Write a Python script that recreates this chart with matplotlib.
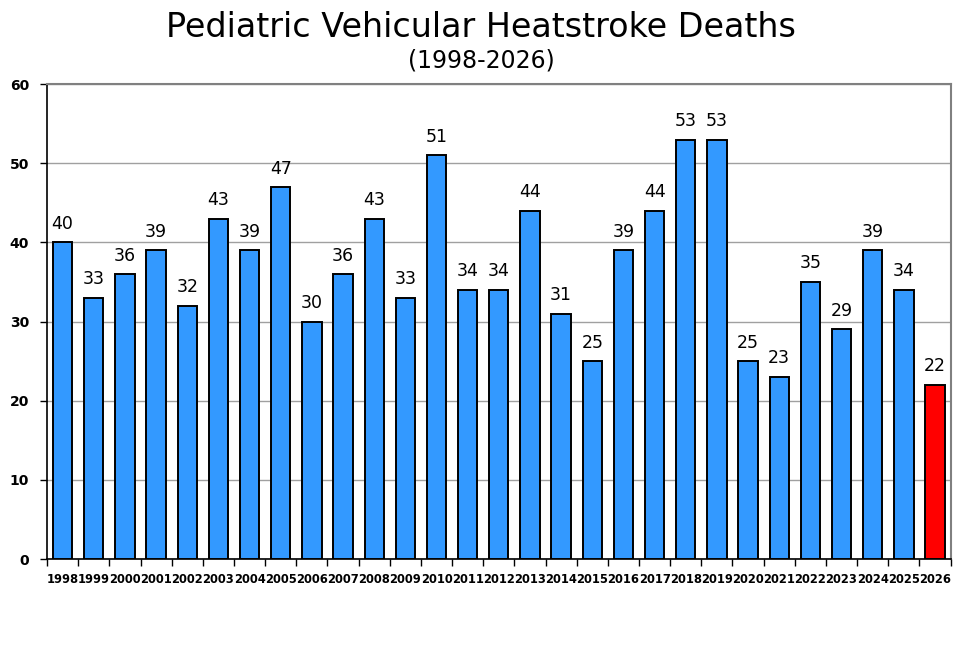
import numpy as np
import matplotlib
matplotlib.use("Agg")
from matplotlib import pyplot as plt

years = [str(y) for y in range(1998, 2027)]
deaths = [40, 33, 36, 39, 32, 43, 39, 47, 30, 36, 43, 33, 51, 34, 34, 44,
          31, 25, 39, 44, 53, 53, 25, 23, 35, 29, 39, 34, 22]


def main():
    '''Draw the bar chart'''
    fig = plt.figure(figsize=(9.8, 6.47), dpi=100)
    ax = fig.add_axes([0.048, 0.136, 0.922, 0.734])

    x = np.arange(len(years))
    colors = ["#3399ff"] * (len(years) - 1) + ["#ff0000"]
    ax.bar(x, deaths, width=0.62, color=colors, edgecolor="black",
           linewidth=1.4, zorder=3)

    for xi, v in zip(x, deaths):
        ax.text(xi, v + 1.2, str(v), ha="center", va="bottom", fontsize=12.5)

    ax.set_xlim(-0.5, len(years) - 0.5)
    ax.set_ylim(0, 60)
    ax.set_yticks(range(0, 61, 10))
    ax.set_yticklabels([str(t) for t in range(0, 61, 10)],
                       fontsize=10, fontweight="bold")
    ax.yaxis.grid(True, color="#a0a0a0", linewidth=1, zorder=0)

    ax.set_xticks(x)
    ax.set_xticklabels(years, fontsize=8.3, fontweight="bold")
    ax.tick_params(axis="x", length=0, pad=10)
    ax.set_xticks(np.arange(-0.5, len(years)), minor=True)
    ax.tick_params(axis="x", which="minor", length=5, width=1)
    ax.tick_params(axis="y", length=5, width=1, pad=8)

    ax.spines["left"].set_color("black")
    ax.spines["bottom"].set_color("black")
    ax.spines["left"].set_linewidth(1.2)
    ax.spines["bottom"].set_linewidth(1.2)
    ax.spines["top"].set_color("#808080")
    ax.spines["right"].set_color("#808080")
    ax.spines["top"].set_linewidth(1.5)
    ax.spines["right"].set_linewidth(1.5)

    fig.text(0.491, 0.958, "Pediatric Vehicular Heatstroke Deaths",
             ha="center", va="center", fontsize=24)
    fig.text(0.491, 0.907, "(1998-2026)", ha="center", va="center",
             fontsize=17)

    fig.savefig("out.png", dpi=100)


if __name__ == "__main__":
    main()
